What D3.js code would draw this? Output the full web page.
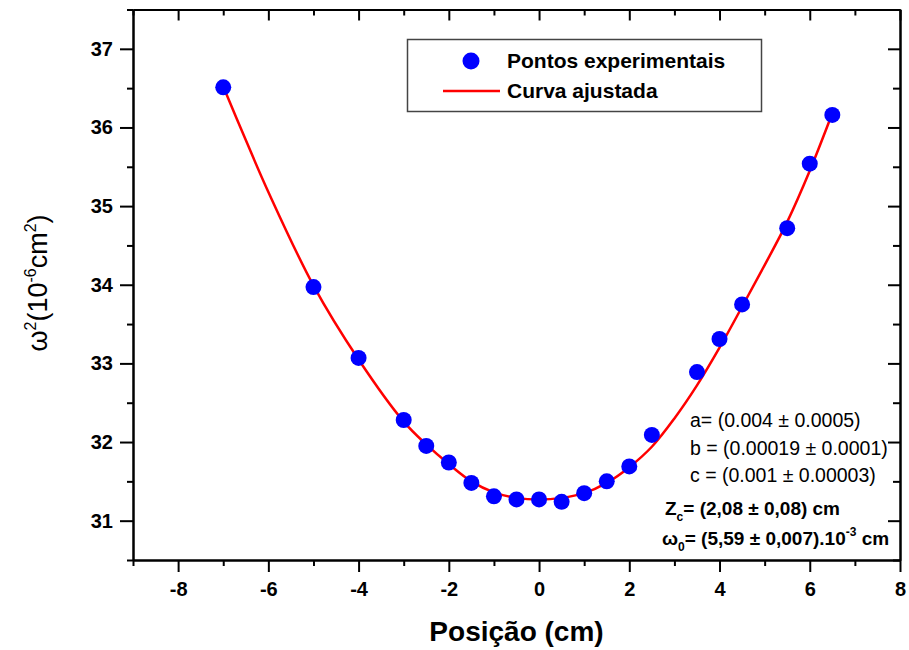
<!DOCTYPE html>
<html>
<head>
<meta charset="utf-8">
<script src="https://cdn.jsdelivr.net/npm/d3@7"></script>
<style>
    body { margin: 0; background: #fff; }
    svg { font-family: "Liberation Sans", Arial, sans-serif; }
</style>
</head>
<body>
<div id="chart"></div>
<script>
// measured points
const posicao = [-7, -5, -4, -3, -2.5, -2, -1.5, -1, -0.5, 0, 0.5, 1, 1.5, 2, 2.5, 3.5, 4, 4.5, 5.5, 6, 6.5];
const omega2 = [36.51, 33.97, 33.07, 32.28, 31.95, 31.74, 31.48, 31.31, 31.27, 31.27, 31.24, 31.35, 31.5, 31.69, 32.09, 32.89, 33.31, 33.75, 34.72, 35.54, 36.16];

// fitted curve
const curvaX = [-7, -6.5, -6, -5, -4, -3, -2.5, -2, -1.5, -1, -0.5, 0, 0.5, 1, 1.5, 2, 2.5, 3, 3.5, 4, 4.5, 5, 5.5, 6, 6.5];
const curvaY = [36.52, 35.84, 35.18, 33.99, 33.05, 32.26, 31.97, 31.72, 31.5, 31.36, 31.29, 31.27, 31.29, 31.35, 31.48, 31.68, 31.94, 32.3, 32.72, 33.2, 33.72, 34.25, 34.8, 35.45, 36.18];

// ticks
const xMajor = [-8, -6, -4, -2, 0, 2, 4, 6, 8];
const xMinor = [-9, -7, -5, -3, -1, 1, 3, 5, 7];
const yMajor = [31, 32, 33, 34, 35, 36, 37];
const yMinor = [30.5, 31.5, 32.5, 33.5, 34.5, 35.5, 36.5, 37.5];

const legendLabels = ["Pontos experimentais", "Curva ajustada"];
const fitParams = ["a= (0.004 \u00b1 0.0005)", "b = (0.00019 \u00b1 0.0001)", "c = (0.001 \u00b1 0.00003)"];

const width = 909, height = 650;
const margin = { top: 9.5, right: 9, bottom: 90, left: 133 };

const svg = d3.select("#chart")
    .append("svg")
    .attr("width", width)
    .attr("height", height);

const x = d3.scaleLinear()
    .domain([-9, 8])
    .range([margin.left, width - margin.right]);
const y = d3.scaleLinear()
    .domain([30.5, 37.5])
    .range([height - margin.bottom, margin.top]);

// plain hyphen for negatives, like the original
const plain = d => String(d);

function styleAxis(g) {
    g.selectAll("path").attr("stroke", "#000").attr("stroke-width", 2);
    g.selectAll("line").attr("stroke", "#000").attr("stroke-width", 2);
    g.selectAll("text")
        .attr("fill", "#000")
        .attr("font-size", 20)
        .attr("font-weight", "bold")
        .attr("font-family", "Liberation Sans, Arial, sans-serif");
}

const bottomY = height - margin.bottom;

// bottom axis (ticks outward)
svg.append("g")
    .attr("transform", `translate(0, ${bottomY})`)
    .call(d3.axisBottom(x).tickValues(xMinor).tickSize(6).tickSizeOuter(0).tickFormat(""))
    .call(styleAxis);
svg.append("g")
    .attr("transform", `translate(0, ${bottomY})`)
    .call(d3.axisBottom(x).tickValues(xMajor).tickSize(12).tickSizeOuter(0).tickPadding(10).tickFormat(plain))
    .call(styleAxis);

// top axis (ticks inward)
svg.append("g")
    .attr("transform", `translate(0, ${margin.top})`)
    .call(d3.axisTop(x).tickValues(xMinor).tickSize(-6).tickSizeOuter(0).tickFormat(""))
    .call(styleAxis);
svg.append("g")
    .attr("transform", `translate(0, ${margin.top})`)
    .call(d3.axisTop(x).tickValues(xMajor).tickSize(-11).tickSizeOuter(0).tickFormat(""))
    .call(styleAxis);

// left axis (ticks outward)
svg.append("g")
    .attr("transform", `translate(${margin.left}, 0)`)
    .call(d3.axisLeft(y).tickValues(yMinor).tickSize(6).tickSizeOuter(0).tickFormat(""))
    .call(styleAxis);
svg.append("g")
    .attr("transform", `translate(${margin.left}, 0)`)
    .call(d3.axisLeft(y).tickValues(yMajor).tickSize(13).tickSizeOuter(0).tickPadding(7).tickFormat(plain))
    .call(styleAxis);

// right axis (ticks inward)
svg.append("g")
    .attr("transform", `translate(${width - margin.right}, 0)`)
    .call(d3.axisRight(y).tickValues(yMinor).tickSize(-7).tickSizeOuter(0).tickFormat(""))
    .call(styleAxis);
svg.append("g")
    .attr("transform", `translate(${width - margin.right}, 0)`)
    .call(d3.axisRight(y).tickValues(yMajor).tickSize(-12).tickSizeOuter(0).tickFormat(""))
    .call(styleAxis);

// fitted curve
const line = d3.line()
    .x(d => x(d[0]))
    .y(d => y(d[1]))
    .curve(d3.curveCatmullRom.alpha(0.5));

svg.append("path")
    .datum(d3.zip(curvaX, curvaY))
    .attr("d", line)
    .attr("fill", "none")
    .attr("stroke", "#ff0000")
    .attr("stroke-width", 2.5);

// points
svg.append("g")
    .selectAll("circle")
    .data(d3.zip(posicao, omega2))
    .join("circle")
    .attr("cx", d => x(d[0]))
    .attr("cy", d => y(d[1]))
    .attr("r", 8)
    .attr("fill", "#0000ff");

// legend
const legend = svg.append("g");
legend.append("rect")
    .attr("x", 407.5)
    .attr("y", 39.5)
    .attr("width", 354)
    .attr("height", 72)
    .attr("fill", "#fff")
    .attr("stroke", "#444")
    .attr("stroke-width", 1.5);
legend.append("circle")
    .attr("cx", 471)
    .attr("cy", 61)
    .attr("r", 8.5)
    .attr("fill", "#0000ff");
legend.append("line")
    .attr("x1", 443).attr("x2", 500)
    .attr("y1", 91).attr("y2", 91)
    .attr("stroke", "#ff0000")
    .attr("stroke-width", 2.5);
legend.selectAll("text")
    .data(legendLabels)
    .join("text")
    .attr("x", 507)
    .attr("y", (d, i) => 68 + i * 30)
    .attr("font-size", 21)
    .attr("font-weight", "bold")
    .text(d => d);

// fit parameters
svg.append("g")
    .selectAll("text")
    .data(fitParams)
    .join("text")
    .attr("x", 690)
    .attr("y", (d, i) => 427 + i * 27.5)
    .attr("font-size", 19.5)
    .text(d => d);

const zc = svg.append("text")
    .attr("x", 665)
    .attr("y", 515)
    .attr("font-size", 19)
    .attr("font-weight", "bold");
zc.append("tspan").text("Z");
zc.append("tspan").attr("dy", 6).attr("font-size", 12).text("c");
zc.append("tspan").attr("dy", -6).text("= (2,08 \u00b1 0,08) cm");

const w0 = svg.append("text")
    .attr("x", 662)
    .attr("y", 545)
    .attr("font-size", 19)
    .attr("font-weight", "bold");
w0.append("tspan").text("\u03c9");
w0.append("tspan").attr("dy", 6).attr("font-size", 12).text("0");
w0.append("tspan").attr("dy", -6).text("= (5,59 \u00b1 0,007).10");
w0.append("tspan").attr("dy", -9).attr("font-size", 12).text("-3");
w0.append("tspan").attr("dy", 9).text(" cm");

// axis titles
svg.append("text")
    .attr("x", (margin.left + width - margin.right) / 2)
    .attr("y", 641)
    .attr("text-anchor", "middle")
    .attr("font-size", 28)
    .attr("font-weight", "bold")
    .text("Posi\u00e7\u00e3o (cm)");

const yTitle = svg.append("text")
    .attr("transform", "translate(47, 283) rotate(-90)")
    .attr("text-anchor", "middle")
    .attr("font-size", 27);
yTitle.append("tspan").text("\u03c9");
yTitle.append("tspan").attr("dy", -11).attr("font-size", 16).text("2");
yTitle.append("tspan").attr("dy", 11).text("(10");
yTitle.append("tspan").attr("dy", -11).attr("font-size", 16).text("-6");
yTitle.append("tspan").attr("dy", 11).text("cm");
yTitle.append("tspan").attr("dy", -11).attr("font-size", 16).text("2");
yTitle.append("tspan").attr("dy", 11).text(")");
</script>
</body>
</html>
